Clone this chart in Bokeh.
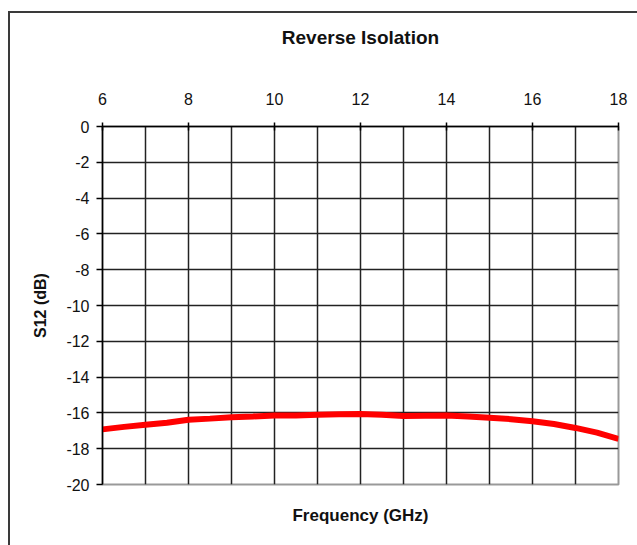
from bokeh.plotting import figure
from bokeh.models import LinearAxis, FixedTicker, Range1d, CustomJSTickFormatter
from bokeh.embed import file_html
from bokeh.resources import INLINE

freq_ghz = [6, 6.5, 7, 7.5, 8, 8.5, 9, 9.5, 10, 10.5, 11, 11.5, 12, 12.5, 13, 13.5, 14, 14.5, 15, 15.5, 16, 16.5, 17, 17.5, 18]
s12_db = [-16.92, -16.78, -16.66, -16.55, -16.38, -16.32, -16.24, -16.2, -16.15, -16.14, -16.1, -16.07, -16.06, -16.1, -16.17, -16.16, -16.15, -16.2, -16.27, -16.35, -16.47, -16.62, -16.84, -17.1, -17.45]
x_ticks = [6, 8, 10, 12, 14, 16, 18]
y_ticks = [0, -2, -4, -6, -8, -10, -12, -14, -16, -18, -20]
x_grid = [6, 7, 8, 9, 10, 11, 12, 13, 14, 15, 16, 17, 18]
chart_title = "Reverse Isolation"

FONT = "Liberation Sans"
INK = "#111111"

p = figure(width=640, height=540, output_backend="svg", toolbar_location=None,
           x_range=Range1d(6, 18), y_range=Range1d(-20, 0),
           x_axis_location="above",
           min_border_left=92, min_border_right=32, min_border_top=113, min_border_bottom=69)

p.styles = {"margin-left": "8px", "margin-top": "11px",
            "border-left": "2px solid #3a3a3a", "border-top": "2px solid #3a3a3a"}

p.background_fill_color = "white"
p.border_fill_color = "white"
p.outline_line_color = "#999999"
p.outline_line_width = 2

fmt = CustomJSTickFormatter(code="return tick.toString();")

# top axis: tick labels, with the chart title as its axis label
xa = p.xaxis[0]
xa.ticker = FixedTicker(ticks=x_ticks)
xa.formatter = fmt
xa.major_label_text_font = FONT
xa.major_label_text_font_size = "16px"
xa.major_label_text_color = INK
xa.axis_line_color = "black"
xa.axis_line_width = 1.5
xa.major_tick_in = 4
xa.major_tick_out = 4
xa.major_tick_line_color = "black"
xa.major_tick_line_width = 1.5
xa.minor_tick_line_color = None
xa.major_label_standoff = 18
xa.axis_label = chart_title
xa.axis_label_text_font = FONT
xa.axis_label_text_font_size = "19px"
xa.axis_label_text_font_style = "bold"
xa.axis_label_text_color = INK
xa.axis_label_standoff = 42

ya = p.yaxis[0]
ya.ticker = FixedTicker(ticks=y_ticks)
ya.formatter = fmt
ya.major_label_text_font = FONT
ya.major_label_text_font_size = "16px"
ya.major_label_text_color = INK
ya.axis_line_color = "black"
ya.axis_line_width = 1.5
ya.major_tick_in = 0
ya.major_tick_out = 6
ya.major_tick_line_color = "black"
ya.major_tick_line_width = 1.5
ya.minor_tick_line_color = None
ya.major_label_standoff = 7
ya.axis_label = "S12 (dB)"
ya.axis_label_text_font = FONT
ya.axis_label_text_font_size = "16px"
ya.axis_label_text_font_style = "bold"
ya.axis_label_text_color = INK
ya.axis_label_standoff = 14

xb = LinearAxis(axis_label="Frequency (GHz)")
xb.ticker = FixedTicker(ticks=[])
xb.axis_line_color = None
xb.major_tick_line_color = None
xb.minor_tick_line_color = None
xb.major_label_text_font_size = "0px"
xb.axis_label_text_font = FONT
xb.axis_label_text_font_size = "17px"
xb.axis_label_text_font_style = "bold"
xb.axis_label_text_color = INK
xb.axis_label_standoff = 21
p.add_layout(xb, "below")

p.xgrid.ticker = FixedTicker(ticks=x_grid)
p.xgrid.grid_line_color = "#222222"
p.xgrid.grid_line_width = 1.5
p.ygrid.ticker = FixedTicker(ticks=y_ticks)
p.ygrid.grid_line_color = "#222222"
p.ygrid.grid_line_width = 1.5

p.line(freq_ghz, s12_db, line_color="#ff0000", line_width=6)

open("out.html", "w").write(file_html(p, INLINE))
